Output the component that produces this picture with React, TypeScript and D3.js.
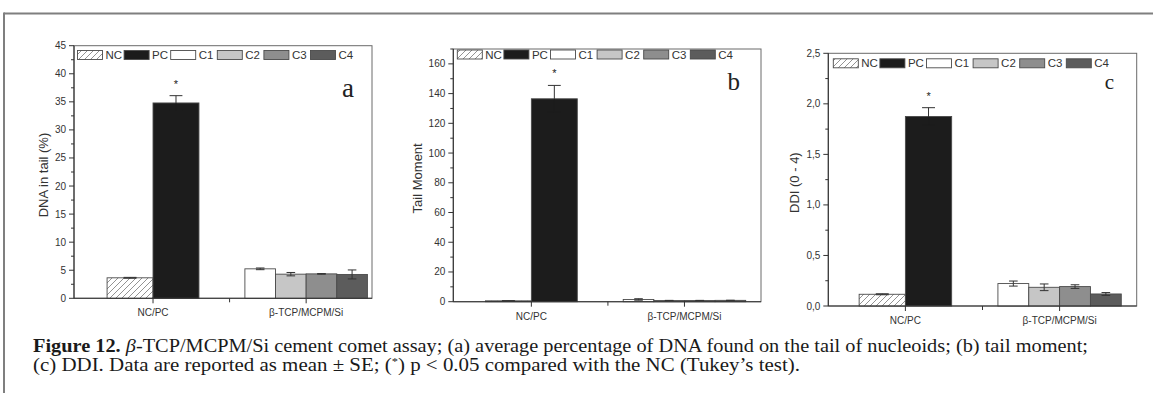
import React from "react";
import * as d3 from "d3";

// ---------- data ----------
const groups = ["NC/PC", "β-TCP/MCPM/Si"];
const seriesNames = ["NC", "PC", "C1", "C2", "C3", "C4"];
const seriesGroup = [0, 0, 1, 1, 1, 1];
const seriesFill = ["url(#hatch)", "#1c1c1c", "#ffffff", "#c6c6c6", "#8e8e8e", "#5c5c5c"];

const dnaMean = [3.65, 34.8, 5.25, 4.3, 4.35, 4.25];
const dnaErr = [0.08, 1.3, 0.15, 0.3, 0.05, 0.8];
const tmMean = [0.6, 136.5, 1.5, 0.8, 0.8, 0.9];
const tmErr = [0.1, 9, 0.5, 0.1, 0.1, 0.1];
const ddiMean = [0.116, 1.875, 0.222, 0.185, 0.192, 0.119];
const ddiErr = [0.005, 0.087, 0.025, 0.033, 0.018, 0.014];
const signif = ["", "*", "", "", "", ""];

const dnaTicks = [0, 5, 10, 15, 20, 25, 30, 35, 40, 45];
const tmTicks = [0, 20, 40, 60, 80, 100, 120, 140, 160];
const ddiTicks = [0, 0.5, 1.0, 1.5, 2.0, 2.5];

const captionLine1 = ["Figure 12.", "β", "-TCP/MCPM/Si cement comet assay; (a) average percentage of DNA found on the tail of nucleoids; (b) tail moment;"];
const captionLine2 = ["(c) DDI. Data are reported as mean ± SE; (", "*", ") p < 0.05 compared with the NC (Tukey’s test)."];

// ---------- layout ----------
const groupWidth = [0.6, 0.8];

type PanelCfg = {
  mean: number[]; err: number[]; ticks: number[]; yMax: number; minorStep: number;
  fmt: (v: number) => string; title: string; letter: string;
  left: number; top: number; right: number; bottom: number; xDomain: [number, number];
  legendDy: number; legendDx: number; letterRight: number; letterBase: number; letterSize: number; titleX: number;
};

const fmtInt = (v: number) => String(v);
const fmtComma = (v: number) => v.toFixed(1).replace(".", ",");

const panels: PanelCfg[] = [
  { mean: dnaMean, err: dnaErr, ticks: dnaTicks, yMax: 45, minorStep: 2.5, fmt: fmtInt, title: "DNA in tail (%)", letter: "a",
    left: 74, top: 45.7, right: 372, bottom: 298.3, xDomain: [0.484, 2.43], legendDy: 9.3, legendDx: 3.5, letterRight: 354, letterBase: 96.5, letterSize: 27, titleX: 43 },
  { mean: tmMean, err: tmErr, ticks: tmTicks, yMax: 170, minorStep: 10, fmt: fmtInt, title: "Tail Moment", letter: "b",
    left: 453.3, top: 49, right: 761, bottom: 301.7, xDomain: [0.49, 2.5], legendDy: 5.5, legendDx: 4, letterRight: 740, letterBase: 90, letterSize: 25, titleX: 417 },
  { mean: ddiMean, err: ddiErr, ticks: ddiTicks, yMax: 2.5, minorStep: 0.25, fmt: fmtComma, title: "DDI (0 - 4)", letter: "c",
    left: 828.3, top: 53.3, right: 1136.7, bottom: 306, xDomain: [0.5, 2.5], legendDy: 10, legendDx: 5, letterRight: 1114, letterBase: 89, letterSize: 21, titleX: 794 },
];

const SANS = "'Liberation Sans', Arial, sans-serif";
const SERIF = "'Liberation Serif', 'Times New Roman', serif";

function Panel({ p }: { p: PanelCfg }) {
  const x = d3.scaleLinear().domain(p.xDomain).range([p.left, p.right]);
  const y = d3.scaleLinear().domain([0, p.yMax]).range([p.bottom, p.top]);
  const minor = d3.range(0, p.yMax + 1e-9, p.minorStep).filter((v) => !p.ticks.some((t) => Math.abs(t - v) < 1e-9));

  const barGeom = seriesNames.map((_, i) => {
    const g = seriesGroup[i];
    const members = seriesGroup.map((gg, j) => (gg === g ? j : -1)).filter((j) => j >= 0);
    const k = members.indexOf(i);
    const w = groupWidth[g] / members.length;
    const x0 = g + 1 - groupWidth[g] / 2 + k * w;
    return { x0: x(x0), x1: x(x0 + w) };
  });

  const legendStep = 46.6;
  const legendY = p.top + p.legendDy;

  return (
    <g>
      {/* frame */}
      <rect x={p.left} y={p.top} width={p.right - p.left} height={p.bottom - p.top} fill="none" stroke="#6a6a6a" strokeWidth={1} />
      {/* bars */}
      {seriesNames.map((s, i) => {
        const b = barGeom[i];
        const yt = y(p.mean[i]);
        return (
          <rect key={s} x={b.x0} y={yt} width={b.x1 - b.x0} height={y(0) - yt}
            fill={seriesFill[i]} stroke="#4a4a4a" strokeWidth={0.9} />
        );
      })}
      {/* error bars */}
      {seriesNames.map((s, i) => {
        const b = barGeom[i];
        const cx = (b.x0 + b.x1) / 2;
        const cw = (b.x1 - b.x0) * 0.14;
        const yMid = y(p.mean[i]);
        const yHi = y(p.mean[i] + p.err[i]);
        const yLo = y(p.mean[i] - p.err[i]);
        const lowCol = i === 1 ? seriesFill[1] : "#333";
        return (
          <g key={"e" + s} strokeWidth={1}>
            <line x1={cx} x2={cx} y1={yHi} y2={yMid} stroke="#333" />
            <line x1={cx - cw} x2={cx + cw} y1={yHi} y2={yHi} stroke="#333" />
            <line x1={cx} x2={cx} y1={yMid} y2={yLo} stroke={lowCol} />
            <line x1={cx - cw} x2={cx + cw} y1={yLo} y2={yLo} stroke={lowCol} />
          </g>
        );
      })}
      {/* significance */}
      {seriesNames.map((s, i) =>
        signif[i] ? (
          <text key={"s" + s} x={(barGeom[i].x0 + barGeom[i].x1) / 2} y={y(p.mean[i] + p.err[i]) - 8}
            fontFamily={SANS} fontSize={11} textAnchor="middle" fill="#222">{signif[i]}</text>
        ) : null
      )}
      {/* axes */}
      <line x1={p.left} x2={p.left} y1={p.top} y2={p.bottom} stroke="#333" strokeWidth={1.1} />
      <line x1={p.left} x2={p.right} y1={p.bottom} y2={p.bottom} stroke="#333" strokeWidth={1.1} />
      {p.ticks.map((t) => (
        <g key={"t" + t}>
          <line x1={p.left - 5} x2={p.left} y1={y(t)} y2={y(t)} stroke="#333" strokeWidth={1} />
          <text x={p.left - 8} y={y(t)} dy="0.35em" textAnchor="end" fontFamily={SANS} fontSize={10} fill="#333">{p.fmt(t)}</text>
        </g>
      ))}
      {minor.map((t) => (
        <line key={"m" + t} x1={p.left - 3} x2={p.left} y1={y(t)} y2={y(t)} stroke="#333" strokeWidth={1} />
      ))}
      {[1, 1.5, 2].map((t) => (
        <line key={"xt" + t} x1={x(t)} x2={x(t)} y1={p.bottom} y2={p.bottom + (t === 1.5 ? 4 : 5)} stroke="#333" strokeWidth={1} />
      ))}
      {groups.map((g, i) => (
        <text key={g} x={x(i + 1)} y={p.bottom + 18} textAnchor="middle" fontFamily={SANS} fontSize={10} fill="#333">{g}</text>
      ))}
      {/* y title */}
      <text transform={`translate(${p.titleX},${(p.top + p.bottom) / 2 + 3}) rotate(-90)`} dy="0.35em" textAnchor="middle"
        fontFamily={SANS} fontSize={13} fill="#333">{p.title}</text>
      {/* legend */}
      {seriesNames.map((s, i) => {
        const lx = p.left + p.legendDx + i * legendStep;
        return (
          <g key={"l" + s}>
            <rect x={lx} y={legendY - 4.5} width={25} height={9} fill={seriesFill[i]} stroke="#4a4a4a" strokeWidth={0.9} />
            <text x={lx + 28} y={legendY} dy="0.36em" fontFamily={SANS} fontSize={11.5} fill="#333">{s}</text>
          </g>
        );
      })}
      {/* panel letter */}
      <text x={p.letterRight} y={p.letterBase} textAnchor="end" fontFamily={SERIF} fontSize={p.letterSize} fill="#222">{p.letter}</text>
    </g>
  );
}

export default function App() {
  return (
    <svg width={1153} height={401} style={{ position: "absolute", left: 0, top: 0, background: "#fff" }}>
      <defs>
        <pattern id="hatch" patternUnits="userSpaceOnUse" width={6} height={6}>
          <rect width={6} height={6} fill="#fff" />
          <path d="M-1,1 L1,-1 M0,6 L6,0 M5,7 L7,5" stroke="#777" strokeWidth={0.8} />
        </pattern>
      </defs>
      <rect x={0} y={0} width={1153} height={401} fill="#fff" />
      {/* outer frame */}
      <line x1={4} x2={1153} y1={13.5} y2={13.5} stroke="#7f7f7f" strokeWidth={2} />
      <line x1={4} x2={4} y1={12.5} y2={393} stroke="#7f7f7f" strokeWidth={2} />
      {panels.map((p) => <Panel key={p.letter} p={p} />)}
      {/* caption */}
      <text x={33} y={352} fontFamily={SERIF} fontSize={18.5} fill="#1a1a1a" textLength={1055} lengthAdjust="spacingAndGlyphs">
        <tspan fontWeight="bold">{captionLine1[0]}</tspan>
        <tspan> </tspan>
        <tspan fontStyle="italic">{captionLine1[1]}</tspan>
        <tspan>{captionLine1[2]}</tspan>
      </text>
      <text x={33} y={371} fontFamily={SERIF} fontSize={18.5} fill="#1a1a1a" textLength={767} lengthAdjust="spacingAndGlyphs">
        <tspan>{captionLine2[0]}</tspan>
        <tspan fontSize={11} dy={-6}>{captionLine2[1]}</tspan>
        <tspan dy={6}>{captionLine2[2]}</tspan>
      </text>
    </svg>
  );
}
